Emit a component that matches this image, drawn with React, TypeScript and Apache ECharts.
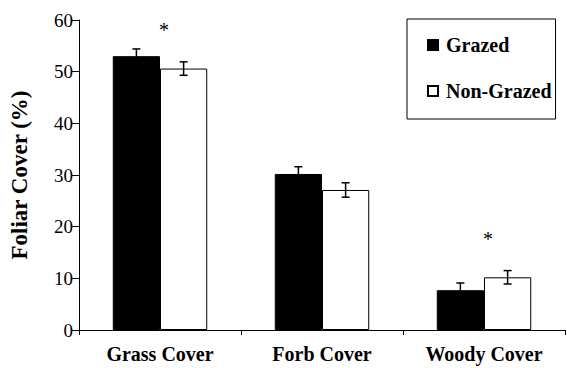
import React, { useEffect, useRef } from "react";
import * as echarts from "echarts";

const categories = ["Grass Cover", "Forb Cover", "Woody Cover"];
const grazed = [53, 30.2, 7.7];
const nonGrazed = [50.6, 27.1, 10.2];
const grazedErr = [1.4, 1.4, 1.4];
const nonGrazedErr = [1.3, 1.4, 1.3];
const asteriskCats = [0, 2];
const asteriskVals = [58, 17.6];
const yTicks = [0, 10, 20, 30, 40, 50, 60];

const FONT = "Liberation Serif";
const GAP = 0.417;

function errSeries(name: string, vals: number[], errs: number[], side: number) {
  return {
    type: "custom",
    name: name + " err",
    silent: true,
    z: 5,
    data: vals.map((v, i) => [i, v - errs[i], v + errs[i]]),
    renderItem: (params: any, api: any) => {
      const cw = api.size([1, 0])[0];
      const bw = (cw * (1 - GAP)) / 2;
      const lo = api.coord([api.value(0), api.value(1)]);
      const hi = api.coord([api.value(0), api.value(2)]);
      const x = lo[0] + (side * bw) / 2;
      const cap = 4;
      const style = { stroke: "#000", lineWidth: 1.5 };
      return {
        type: "group",
        children: [
          { type: "line", shape: { x1: x, y1: lo[1], x2: x, y2: hi[1] }, style },
          { type: "line", shape: { x1: x - cap, y1: hi[1], x2: x + cap, y2: hi[1] }, style },
          { type: "line", shape: { x1: x - cap, y1: lo[1], x2: x + cap, y2: lo[1] }, style },
        ],
      };
    },
  };
}

export default function App() {
  const ref = useRef<HTMLDivElement>(null);
  useEffect(() => {
    if (!ref.current) return;
    const chart = echarts.init(ref.current, null, { renderer: "svg" });
    chart.setOption({
      animation: false,
      textStyle: { fontFamily: FONT, color: "#000" },
      grid: { left: 76, right: 2, top: 20, bottom: 38, containLabel: false },
      legend: {
        orient: "vertical",
        left: 407,
        top: 19,
        padding: [16, 4, 18, 20],
        itemGap: 26,
        itemWidth: 10,
        itemHeight: 10,
        icon: "rect",
        borderColor: "#000",
        borderWidth: 1,
        data: ["Grazed", "Non-Grazed"],
        textStyle: { fontFamily: FONT, fontWeight: "bold", fontSize: 20, color: "#000", padding: [0, 0, 0, 3] },
      },
      xAxis: {
        type: "category",
        data: categories,
        axisLine: { lineStyle: { color: "#000", width: 1 } },
        axisTick: { show: true, length: 5, lineStyle: { color: "#000" } },
        axisLabel: { fontFamily: FONT, fontWeight: "bold", fontSize: 20, color: "#000", margin: 14 },
      },
      yAxis: {
        type: "value",
        min: yTicks[0],
        max: yTicks[yTicks.length - 1],
        interval: 10,
        name: "Foliar Cover (%)",
        nameLocation: "middle",
        nameRotate: 90,
        nameGap: 48,
        nameTextStyle: { fontFamily: FONT, fontWeight: "bold", fontSize: 23, color: "#000" },
        axisLine: { show: true, lineStyle: { color: "#000", width: 1 } },
        axisTick: { show: true, length: 7, lineStyle: { color: "#000" } },
        axisLabel: { fontFamily: FONT, fontSize: 19, color: "#000", margin: 6 },
        splitLine: { show: false },
      },
      series: [
        {
          type: "bar",
          name: "Grazed",
          data: grazed,
          barGap: "0%",
          barCategoryGap: GAP * 100 + "%",
          itemStyle: { color: "#000", borderColor: "#000", borderWidth: 1 },
        },
        {
          type: "bar",
          name: "Non-Grazed",
          data: nonGrazed,
          barGap: "0%",
          barCategoryGap: GAP * 100 + "%",
          itemStyle: { color: "#fff", borderColor: "#000", borderWidth: 1 },
        },
        errSeries("Grazed", grazed, grazedErr, -1),
        errSeries("Non-Grazed", nonGrazed, nonGrazedErr, 1),
        {
          type: "custom",
          name: "sig",
          silent: true,
          data: asteriskCats.map((c, i) => [c, asteriskVals[i]]),
          renderItem: (params: any, api: any) => {
            const p = api.coord([api.value(0), api.value(1)]);
            return {
              type: "text",
              x: p[0] + 4,
              y: p[1],
              style: {
                text: "*",
                fontFamily: FONT,
                fontSize: 20,
                fill: "#000",
                align: "center",
                verticalAlign: "middle",
              },
            };
          },
        },
      ],
    });
    return () => chart.dispose();
  }, []);
  return (
    <div
      ref={ref}
      style={{ position: "absolute", left: 0, top: 0, width: 567, height: 368 }}
    />
  );
}
